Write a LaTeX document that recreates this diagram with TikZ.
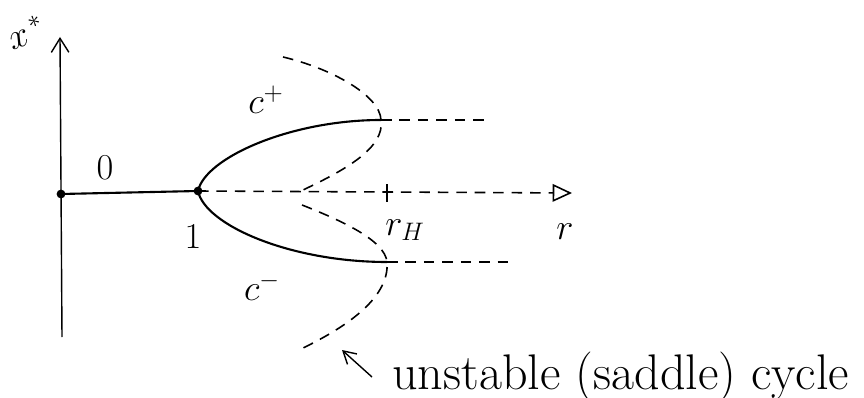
\documentclass[tikz,border=0pt]{standalone}
\usetikzlibrary{arrows.meta, positioning}

\begin{document}
\begin{tikzpicture}[
  x=0.02cm, y=-0.02cm,
  axis/.style={line width=0.8pt},
  branch/.style={line width=1.2pt},
  unst/.style={line width=0.9pt, dash pattern=on 6pt off 4.5pt},
  lbl/.style={font=\fontsize{20}{24}\selectfont},
  note/.style={font=\fontsize{28.5}{33}\selectfont, inner sep=0pt},
  pt/.style={circle, fill, inner sep=0pt, minimum size=5pt},
]
  \useasboundingbox (0,0) rectangle (864,398);

  % axes and points
  \coordinate (bot) at (62,337);
  \coordinate (top) at (60,37);
  \node[pt] (orig) at (61,194) {};
  \node[pt] (bif) at (198,191) {};
  \coordinate (rend) at (572,193);
  \coordinate (rH) at (387,193);
  \coordinate (cp) at (381,120);
  \coordinate (cm) at (387,262);

  \draw[axis, -{Straight Barb[length=8pt, width=10pt]}] (bot) -- (top);
  \draw[branch] (orig.center) -- (bif.center);
  \draw[unst, -{Triangle[open, length=11pt, width=10pt]}] (bif.center) -- (rend);
  \draw[axis] ([yshift=-5pt]rH) -- ([yshift=5pt]rH);

  % stable branches C+ and C-
  \draw[branch] (bif.center) .. controls (205,158) and (290,120) .. (cp);
  \draw[branch] (bif.center) .. controls (205,225) and (290,262) .. (cm);
  \draw[unst] (cp) -- (485,120);
  \draw[unst] (cm) -- (512,262);

  % unstable cycles
  \coordinate (ua) at (283,57);
  \coordinate (ub) at (303,190);
  \coordinate (la) at (302,205);
  \coordinate (lb) at (303,348);
  \draw[unst] (ua) .. controls (330,68) and (380,95) .. (cp)
                   .. controls (385,148) and (345,170) .. (ub);
  \draw[unst] (la) .. controls (340,220) and (385,240) .. (cm)
                   .. controls (390,300) and (340,330) .. (lb);

  % labels
  \node[lbl, rotate=20] (xs) at (26,32) {$x^{\,*}$};
  \node[lbl] (zero) at (105,168) {$0$};
  \node[lbl] (one) at (193,237) {$1$};
  \node[lbl] (rHl) at (405,230) {$r_H$};
  \node[lbl] (rl) at (565,232) {$r$};
  \node[lbl] (cpl) at (266,100) {$c^+$};
  \node[lbl] (cml) at (262,287) {$c^-$};

  \coordinate (tail) at (372,377);
  \coordinate (tip) at (342,350);
  \node[note, right=0.4cm of tail] (unote) {unstable (saddle) cycle};
  \draw[axis, -{Straight Barb[length=7pt, width=8pt]}] (tail) -- (tip);
\end{tikzpicture}
\end{document}
